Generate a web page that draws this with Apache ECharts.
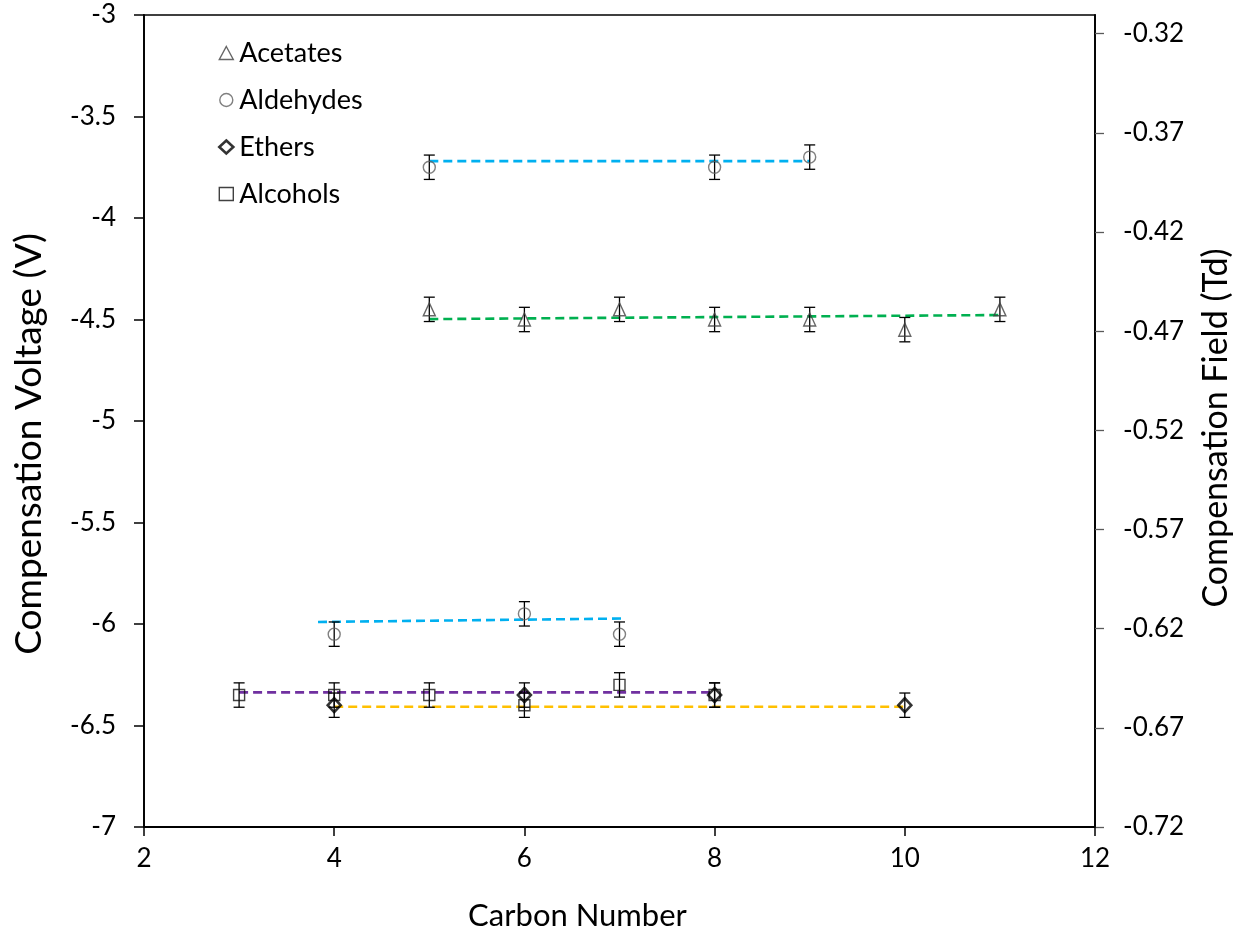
<!DOCTYPE html>
<html>
<head>
<meta charset="utf-8">
<script src="https://cdn.jsdelivr.net/npm/echarts@6/dist/echarts.min.js"></script>
<style>
  html, body { margin: 0; padding: 0; background: #fff; }
  #chart { width: 1250px; height: 939px; }
</style>
</head>
<body>
<div id="chart"></div>
<script>
// Compensation voltage vs carbon number for four compound classes
const carbonAcetates = [5, 6, 7, 8, 9, 10, 11];
const cvAcetates     = [-4.45, -4.50, -4.45, -4.50, -4.50, -4.55, -4.45];
const errAcetates    = [0.06, 0.06, 0.06, 0.06, 0.06, 0.06, 0.06];

const carbonAldehydesA = [5, 8, 9];
const cvAldehydesA     = [-3.75, -3.75, -3.70];
const errAldehydesA    = [0.06, 0.06, 0.06];

const carbonAldehydesB = [4, 6, 7];
const cvAldehydesB     = [-6.05, -5.95, -6.05];
const errAldehydesB    = [0.06, 0.06, 0.06];

const carbonEthers = [4, 6, 8, 10];
const cvEthers     = [-6.40, -6.35, -6.35, -6.40];
const errEthers    = [0.06, 0.06, 0.06, 0.06];

const carbonAlcohols = [3, 4, 5, 6, 7, 8];
const cvAlcohols     = [-6.35, -6.35, -6.35, -6.40, -6.30, -6.35];
const errAlcohols    = [0.06, 0.06, 0.06, 0.06, 0.06, 0.06];

// Linear trend lines: [carbon, CV] at each end
const trendAcetates   = [[5, -4.498], [11, -4.478]];
const trendAldehydesA = [[5, -3.72], [9, -3.72]];
const trendAldehydesB = [[3.83, -5.99], [7.05, -5.973]];
const trendAlcohols   = [[3, -6.337], [8, -6.337]];
const trendEthers     = [[4, -6.408], [10, -6.408]];

// Secondary axis (compensation field, Td)
const fieldTicks = [-0.72, -0.67, -0.62, -0.57, -0.52, -0.47, -0.42, -0.37, -0.32];
const fieldMin = -0.72;
const fieldMax = -0.3106;

const FONT = 'Lato';

function pairs(xs, ys) { return xs.map((x, i) => [x, ys[i]]); }
function bars(xs, ys, es) { return xs.map((x, i) => [x, ys[i] - es[i], ys[i] + es[i]]); }

function errorSeries(data) {
  return {
    type: 'custom',
    silent: true,
    z: 3,
    encode: { x: 0, y: [1, 2] },
    data: data,
    renderItem: function (params, api) {
      const x = api.value(0);
      const lo = api.coord([x, api.value(1)]);
      const hi = api.coord([x, api.value(2)]);
      const cap = 5.5;
      const style = { stroke: '#000', lineWidth: 1.3, fill: null };
      return {
        type: 'group',
        children: [
          { type: 'line', shape: { x1: lo[0], y1: lo[1], x2: hi[0], y2: hi[1] }, style: style },
          { type: 'line', shape: { x1: lo[0] - cap, y1: lo[1], x2: lo[0] + cap, y2: lo[1] }, style: style },
          { type: 'line', shape: { x1: hi[0] - cap, y1: hi[1], x2: hi[0] + cap, y2: hi[1] }, style: style }
        ]
      };
    }
  };
}

function trendSeries(data, color) {
  return {
    type: 'line',
    data: data,
    symbol: 'none',
    silent: true,
    z: 2,
    lineStyle: { color: color, width: 2.6, type: [9, 5] }
  };
}

const styleAcetates  = { color: 'rgba(0,0,0,0)', borderColor: '#404040', borderWidth: 1.4 };
const styleAldehydes = { color: 'rgba(0,0,0,0)', borderColor: '#606060', borderWidth: 1.4 };
const styleEthers    = { color: 'rgba(0,0,0,0)', borderColor: '#000', borderWidth: 2.6 };
const styleAlcohols  = { color: 'rgba(0,0,0,0)', borderColor: '#111', borderWidth: 1.4 };

const chart = echarts.init(document.getElementById('chart'));
chart.setOption({
  animation: false,
  backgroundColor: '#fff',
  textStyle: { fontFamily: FONT },
  grid: {
    left: 144, right: 155, top: 15, bottom: 112,
    show: true, borderColor: '#000', borderWidth: 1.6, backgroundColor: 'transparent'
  },
  legend: {
    orient: 'vertical',
    left: 213,
    top: 32,
    itemWidth: 14,
    itemHeight: 13,
    itemGap: 15,
    textStyle: { fontFamily: FONT, fontSize: 27, color: '#000', lineHeight: 32, padding: [0, 0, 0, 1] },
    data: [
      { name: 'Acetates', icon: 'triangle', itemStyle: styleAcetates },
      { name: 'Aldehydes', icon: 'circle', itemStyle: styleAldehydes },
      { name: 'Ethers', icon: 'diamond', itemStyle: styleEthers },
      { name: 'Alcohols', icon: 'rect', itemStyle: styleAlcohols }
    ]
  },
  xAxis: {
    type: 'value',
    min: 2, max: 12, interval: 2,
    name: 'Carbon Number',
    nameLocation: 'middle',
    nameGap: 73,
    nameTextStyle: { fontFamily: FONT, fontSize: 31, color: '#000', padding: [0, 84, 0, 0] },
    axisLine: { show: true, lineStyle: { color: '#000', width: 1.8 } },
    axisTick: { show: true, inside: false, length: 9, lineStyle: { color: '#000', width: 1.5 } },
    axisLabel: { fontFamily: FONT, fontSize: 26, color: '#000', margin: 19 },
    splitLine: { show: false }
  },
  yAxis: [
    {
      type: 'value',
      min: -7, max: -3, interval: 0.5,
      name: 'Compensation Voltage (V)',
      nameLocation: 'middle',
      nameGap: 96,
      nameRotate: 90,
      nameTextStyle: { fontFamily: FONT, fontSize: 37, color: '#000', padding: [0, 46, 0, 0] },
      axisLine: { show: true, lineStyle: { color: '#000', width: 1.8 } },
      axisTick: { show: true, inside: false, length: 10, lineStyle: { color: '#000', width: 1.5 } },
      axisLabel: { fontFamily: FONT, fontSize: 26, color: '#000', margin: 28 },
      splitLine: { show: false }
    },
    {
      type: 'value',
      position: 'right',
      min: fieldMin, max: fieldMax,
      name: 'Compensation Field (Td)',
      nameLocation: 'middle',
      nameGap: 104,
      nameRotate: 90,
      nameTextStyle: { fontFamily: FONT, fontSize: 34, color: '#000', padding: [0, 14, 0, 0] },
      axisLine: { show: true, lineStyle: { color: '#000', width: 1.8 } },
      axisTick: { show: true, inside: false, length: 9, customValues: fieldTicks, lineStyle: { color: '#595959', width: 1.3 } },
      axisLabel: {
        fontFamily: FONT, fontSize: 26, color: '#000', margin: 28,
        customValues: fieldTicks,
        formatter: function (v) { return v.toFixed(2); }
      },
      splitLine: { show: false }
    }
  ],
  series: [
    trendSeries(trendAldehydesA, '#00B0F0'),
    trendSeries(trendAldehydesB, '#00B0F0'),
    trendSeries(trendAcetates, '#00B050'),
    trendSeries(trendAlcohols, '#7030A0'),
    trendSeries(trendEthers, '#FFC000'),
    errorSeries(bars(carbonAcetates, cvAcetates, errAcetates)),
    errorSeries(bars(carbonAldehydesA, cvAldehydesA, errAldehydesA)),
    errorSeries(bars(carbonAldehydesB, cvAldehydesB, errAldehydesB)),
    errorSeries(bars(carbonEthers, cvEthers, errEthers)),
    errorSeries(bars(carbonAlcohols, cvAlcohols, errAlcohols)),
    {
      name: 'Acetates', type: 'scatter', symbol: 'triangle', symbolSize: [12, 13], z: 4,
      itemStyle: styleAcetates, data: pairs(carbonAcetates, cvAcetates)
    },
    {
      name: 'Aldehydes', type: 'scatter', symbol: 'circle', symbolSize: 12, z: 4,
      itemStyle: styleAldehydes, data: pairs(carbonAldehydesA, cvAldehydesA).concat(pairs(carbonAldehydesB, cvAldehydesB))
    },
    {
      name: 'Alcohols', type: 'scatter', symbol: 'rect', symbolSize: 11, z: 4,
      itemStyle: styleAlcohols, data: pairs(carbonAlcohols, cvAlcohols)
    },
    {
      name: 'Ethers', type: 'scatter', symbol: 'diamond', symbolSize: [13, 14], z: 5,
      itemStyle: styleEthers, data: pairs(carbonEthers, cvEthers)
    }
  ]
});
</script>
</body>
</html>
